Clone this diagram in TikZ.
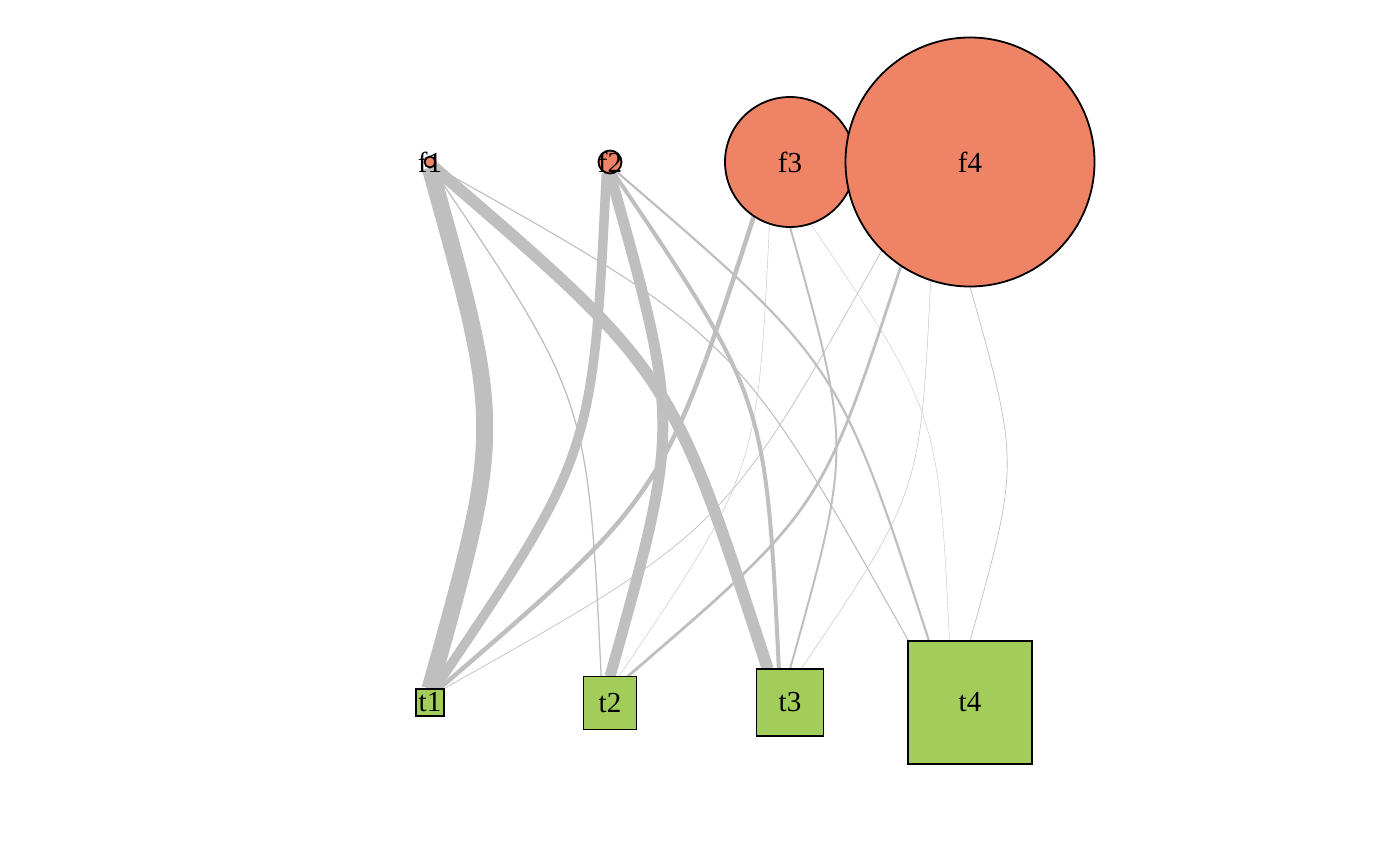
\documentclass[tikz,border=0pt]{standalone}
\usepackage{fontspec}
\setmainfont{Liberation Serif}
\usetikzlibrary{calc}
\pgfdeclarelayer{background}
\pgfsetlayers{background,main}
\definecolor{fcol}{RGB}{239,131,102}
\definecolor{tcol}{RGB}{163,205,91}
\definecolor{ecol}{RGB}{191,191,191}
\tikzset{
  fnode/.style={circle, draw=black, line width=1.8pt, fill=fcol, inner sep=0pt, outer sep=0pt},
  tnode/.style={rectangle, draw=black, line width=1.8pt, fill=tcol, inner sep=0pt, outer sep=0pt},
  lab/.style={inner sep=0pt, font=\fontsize{29}{29}\selectfont},
  edge/.style={draw=ecol, line cap=butt},
}
\newcommand\igedge[3]{%
  \path (#1) -- (#2) coordinate[pos=0] (s) coordinate[pos=1] (e);
  \coordinate (m) at ($(s)!0.5!(e)$);
  \coordinate (C) at ($(m)!0.28!90:(e)$);
  \draw[edge, line width=#3] (s) .. controls (C) .. (e);
}
\begin{document}
\begin{tikzpicture}[x=1pt,y=-1pt]
\useasboundingbox (0,0) rectangle (1400,865);
% nodes
\node[fnode, minimum size=11pt] (f1) at (430,162) {};
\node[fnode, minimum size=23pt] (f2) at (610,162) {};
\node[fnode, minimum size=130pt] (f3) at (790,162) {};
\node[fnode, minimum size=249pt] (f4) at (970,162) {};
\node[tnode, minimum size=27.5pt] (t1) at (430,702.5) {};
\node[tnode, minimum size=53pt] (t2) at (610,703) {};
\node[tnode, minimum size=67pt] (t3) at (790,702.5) {};
\node[tnode, minimum size=123.5pt] (t4) at (970,702.5) {};
% labels
\foreach \n in {f1,f2,f3,f4,t1,t2,t3,t4}{
  \node[lab] (l\n) at (\n) {\n};
}
% edges
\begin{pgfonlayer}{background}
\igedge{f3}{t4}{0.35pt}
\igedge{f3}{t2}{0.4pt}
\igedge{f4}{t3}{0.45pt}
\igedge{f4}{t4}{0.7pt}
\igedge{f4}{t1}{0.7pt}
\igedge{f1}{t4}{1.1pt}
\igedge{f1}{t2}{1.3pt}
\igedge{f3}{t3}{2pt}
\igedge{f2}{t4}{2.2pt}
\igedge{f4}{t2}{2.8pt}
\igedge{f2}{t3}{4pt}
\igedge{f3}{t1}{4.5pt}
\igedge{f2}{t1}{9.5pt}
\igedge{f2}{t2}{11pt}
\igedge{f1}{t3}{12pt}
\igedge{f1}{t1}{17pt}
\end{pgfonlayer}
\end{tikzpicture}
\end{document}
